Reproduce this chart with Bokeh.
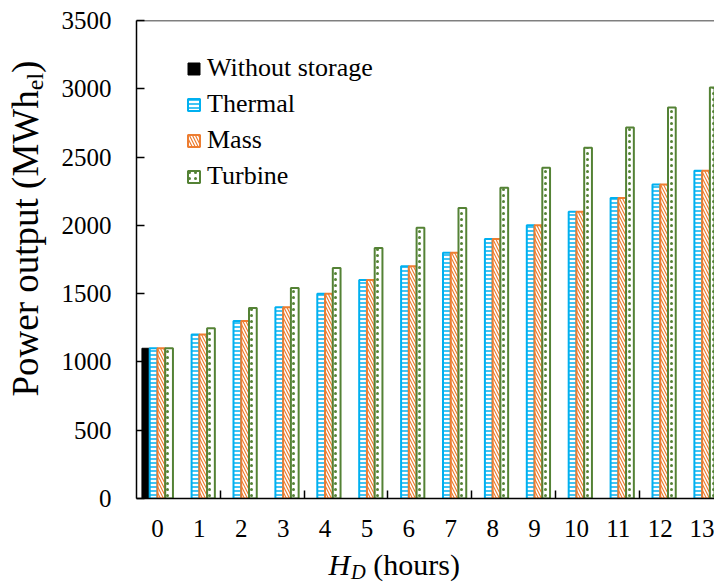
import math
from bokeh.plotting import figure
from bokeh.layouts import row, column
from bokeh.models import (ColumnDataSource, FixedTicker, Legend, LegendItem,
                          Label, Span)
from bokeh.transform import dodge
from bokeh.embed import file_html
from bokeh.resources import INLINE

# ---- data ----
hours = list(range(14))
without_storage_hours = [0]
without_storage = [1100]
thermal = [1100, 1200, 1300, 1400, 1500, 1600, 1700, 1800, 1900, 2000, 2100, 2200, 2300, 2400]
mass = [1100, 1200, 1300, 1400, 1500, 1600, 1700, 1800, 1900, 2000, 2100, 2200, 2300, 2400]
turbine = [1100, 1247, 1394, 1541, 1688, 1835, 1982, 2128, 2275, 2422, 2569, 2716, 2863, 3010]
y_ticks = [0, 500, 1000, 1500, 2000, 2500, 3000, 3500]
x_boundary_ticks = [1.5, 3.5, 5.5, 7.5, 9.5, 11.5]

FONT = "Liberation Serif"
BLUE = "#00B0F0"
ORANGE = "#ED7D31"
GREEN = "#548235"
MID = 0.3375  # offset of text middle above baseline, in em


def blank_fig(w, h):
    f = figure(width=w, height=h, x_range=(0, w), y_range=(0, h),
               output_backend="svg", toolbar_location=None,
               min_border=0, min_border_left=0, min_border_right=0,
               min_border_top=0, min_border_bottom=0)
    f.axis.visible = False
    f.grid.visible = False
    f.outline_line_color = None
    return f


src = ColumnDataSource(dict(hours=hours, thermal=thermal, mass=mass, turbine=turbine))
src0 = ColumnDataSource(dict(hours=without_storage_hours, value=without_storage))

# main frame: page x 136..714(+), y 20..498
p = figure(width=664, height=547, x_range=(-0.5, 13.295), y_range=(0, 3500),
           output_backend="svg", toolbar_location=None,
           min_border_left=86, min_border_right=0, min_border_top=20,
           min_border_bottom=49)
p.outline_line_color = None
p.xgrid.visible = False
p.ygrid.visible = False
p.background_fill_color = "white"

w = 0.185
r0 = p.vbar(x=dodge("hours", -1.5 * w), top="value", width=w, source=src0,
            fill_color="black", line_color="black", line_width=1)
r1 = p.vbar(x=dodge("hours", -0.5 * w), top="thermal", width=w, source=src,
            fill_color="white", line_color=BLUE, line_width=2,
            hatch_pattern="-", hatch_color=BLUE, hatch_scale=4, hatch_weight=1.5)
r2 = p.vbar(x=dodge("hours", 0.5 * w), top="mass", width=w, source=src,
            fill_color="white", line_color=ORANGE, line_width=2,
            hatch_pattern="\\", hatch_color=ORANGE, hatch_scale=6, hatch_weight=1.2)
r3 = p.vbar(x=dodge("hours", 1.5 * w), top="turbine", width=w, source=src,
            fill_color="white", line_color=GREEN, line_width=2,
            hatch_pattern=".", hatch_color=GREEN, hatch_scale=6, hatch_weight=1.5)

# axes
p.yaxis.ticker = FixedTicker(ticks=y_ticks)
p.yaxis.major_tick_in = 8
p.yaxis.major_tick_out = 0
p.yaxis.minor_tick_line_color = None
p.yaxis.axis_line_width = 1.5
p.yaxis.axis_line_color = "black"
p.yaxis.major_tick_line_width = 1.5
p.yaxis.major_label_text_font = FONT
p.yaxis.major_label_text_font_size = "25px"
p.yaxis.major_label_text_color = "black"
p.yaxis.major_label_standoff = 25

p.xaxis.ticker = FixedTicker(ticks=hours, minor_ticks=x_boundary_ticks)
p.xaxis.major_tick_in = 0
p.xaxis.major_tick_out = 0
p.xaxis.minor_tick_in = 8
p.xaxis.minor_tick_out = 0
p.xaxis.minor_tick_line_width = 1.5
p.xaxis.axis_line_width = 1.5
p.xaxis.axis_line_color = "black"
p.xaxis.major_label_text_font = FONT
p.xaxis.major_label_text_font_size = "25px"
p.xaxis.major_label_text_color = "black"
p.xaxis.major_label_standoff = 21

p.add_layout(Span(location=3500, dimension="width", line_color="black", line_width=1.5))

# legend
legend = Legend(items=[LegendItem(label="Without storage", renderers=[r0]),
                       LegendItem(label="Thermal", renderers=[r1]),
                       LegendItem(label="Mass", renderers=[r2]),
                       LegendItem(label="Turbine", renderers=[r3])],
                location=(50, 307), glyph_width=15, glyph_height=15,
                label_standoff=6, spacing=6, padding=0, margin=0,
                border_line_color=None, background_fill_alpha=0,
                label_text_font=FONT, label_text_font_size="26px",
                label_text_color="black")
p.add_layout(legend)

# y axis title: Power output (MWh_el)  (rotated, reads bottom-to-top)
# the frame of this figure is aligned with the main frame (bottom at page y 498)
yfig = blank_fig(50, 547)
sy = 37
sub_y = 0.65 * sy
main_w = 8.277 * sy
base_x = 37.4
y0 = 102
yfig.add_layout(Label(x=base_x - MID * sy, y=y0, x_units="screen", y_units="screen",
                      angle=math.pi / 2, text="Power output (MWh", text_font=FONT,
                      text_font_size=f"{sy}px", text_baseline="middle", text_align="left",
                      text_color="black"))
yfig.add_layout(Label(x=base_x + 5.5 - MID * sub_y, y=y0 + main_w, x_units="screen",
                      y_units="screen", angle=math.pi / 2, text="el", text_font=FONT,
                      text_font_size=f"{sub_y:.1f}px", text_baseline="middle",
                      text_align="left", text_color="black"))
yfig.add_layout(Label(x=base_x - MID * sy, y=y0 + main_w + 0.722 * sub_y, x_units="screen",
                      y_units="screen", angle=math.pi / 2, text=")", text_font=FONT,
                      text_font_size=f"{sy}px", text_baseline="middle", text_align="left",
                      text_color="black"))

# x axis title: H_D (hours)
xfig = blank_fig(714, 36)
sx = 30
sub_x = 0.68 * sx
x0 = 328
base_y = 9
xfig.add_layout(Label(x=x0, y=base_y + MID * sx, x_units="screen", y_units="screen",
                      text="H", text_font=FONT, text_font_size=f"{sx}px",
                      text_font_style="italic", text_baseline="middle", text_align="left",
                      text_color="black"))
xfig.add_layout(Label(x=x0 + 0.75 * sx, y=base_y - 4.4 + MID * sub_x, x_units="screen",
                      y_units="screen", text="D", text_font=FONT,
                      text_font_size=f"{sub_x:.1f}px", text_font_style="italic",
                      text_baseline="middle", text_align="left", text_color="black"))
xfig.add_layout(Label(x=x0 + 0.75 * sx + 0.722 * sub_x + 0.25 * sx, y=base_y + MID * sx,
                      x_units="screen", y_units="screen", text="(hours)", text_font=FONT,
                      text_font_size=f"{sx}px", text_baseline="middle", text_align="left",
                      text_color="black"))

layout = column(row(yfig, p, spacing=0), xfig, spacing=0)

open("out.html", "w").write(file_html(layout, INLINE))
